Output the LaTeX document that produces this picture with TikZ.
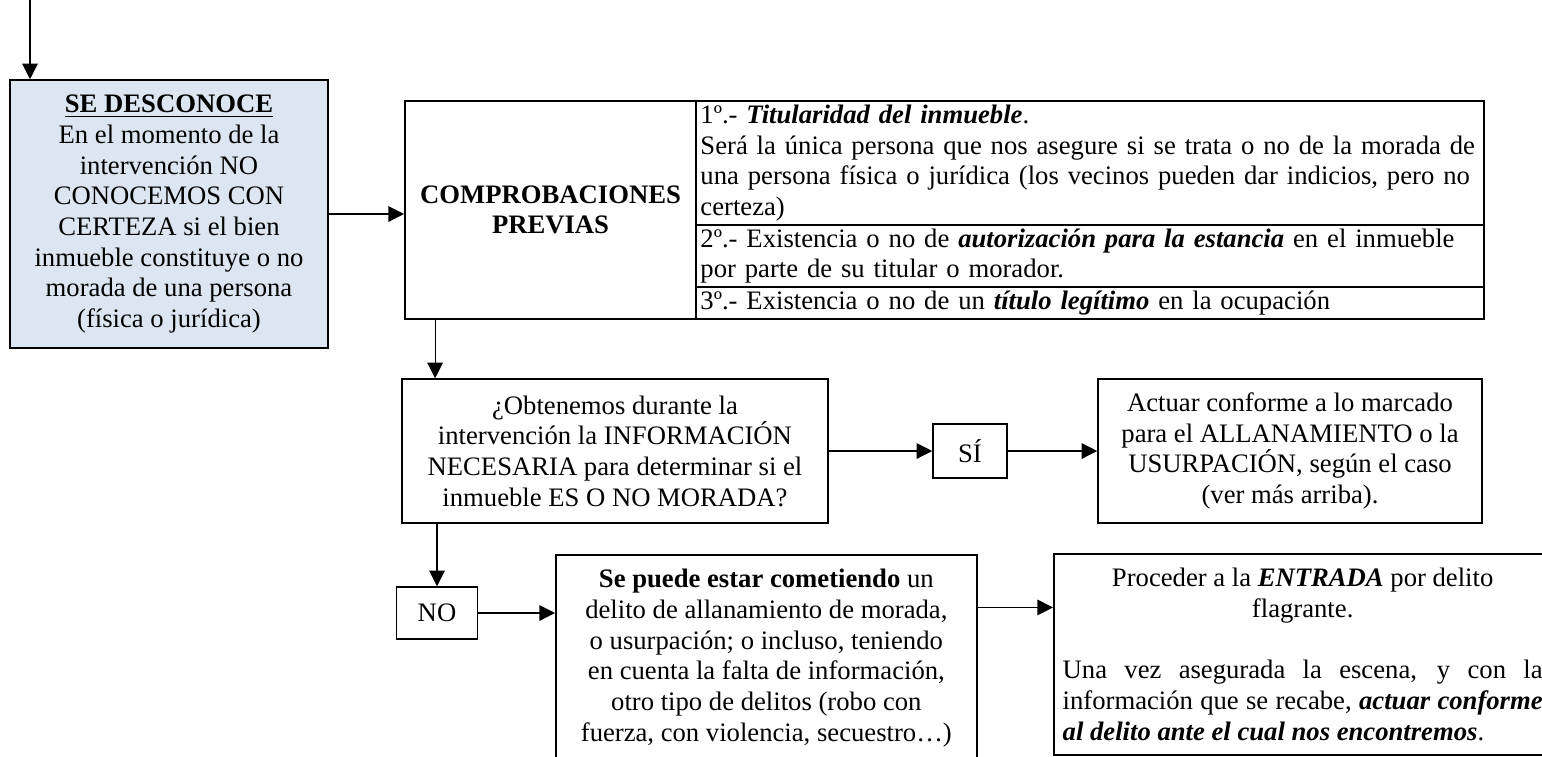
\documentclass[tikz,border=0pt]{standalone}
\usepackage{fontspec}
\setmainfont{Liberation Serif}
\usepackage{tikz}
\usetikzlibrary{shapes}
\usetikzlibrary{arrows.meta}
\definecolor{azul}{RGB}{220,230,242}
\setlength{\parindent}{0pt}

\begin{document}
\begin{tikzpicture}[x=0.45pt,y=-0.45pt,
every node/.style={font=\fontsize{12}{13.8}\selectfont}]
\tikzstyle{flecha}=[-{Triangle[length=7pt,width=7pt]},line width=0.5pt]
\tikzset{caja/.style={draw,line width=0.7pt,align=center,inner sep=0pt,fill=#1},
caja/.default={white},
celda/.style={draw,line width=0.9pt,anchor=north west,inner xsep=2pt,inner ysep=0pt,
align=left,text width=350.6pt}}
\useasboundingbox (0,0) rectangle (1542,756);
\node [caja=azul,minimum width=143.1pt,minimum height=120.6pt] (desconoce) at (169,214)
{\textbf{\underline{SE DESCONOCE}}\\En el momento de la\\intervención NO\\CONOCEMOS CON\\
CERTEZA si el bien\\inmueble constituye o no\\morada de una persona\\(física o jurídica)};
\node [caja,line width=0.9pt,anchor=north west,minimum width=131pt,minimum height=98.1pt]
(compro) at (404,100) {\textbf{COMPROBACIONES}\\\textbf{PREVIAS}};
\node [celda,minimum height=55.8pt] (fila1) at (695,100)
{1º.- \textbf{\textit{Titularidad del inmueble}}.\\
Será la única persona que nos asegure si se trata o no de la morada de\\
una persona física o jurídica (los vecinos pueden dar indicios, pero no\\
certeza)};
\node [celda,minimum height=27.9pt] (fila2) at (695,224)
{2º.- Existencia o no de \textbf{\textit{autorización para la estancia}} en el inmueble\\
por parte de su titular o morador.};
\node [celda,minimum height=14.4pt] (fila3) at (695,286)
{3º.- Existencia o no de un \textbf{\textit{título legítimo}} en la ocupación};
\node [caja,minimum width=191.7pt,minimum height=64.8pt] (pregunta) at (615,451)
{¿Obtenemos durante la\\intervención la INFORMACIÓN\\NECESARIA para determinar si el\\
inmueble ES O NO MORADA?};
\node [caja,minimum width=33.3pt,minimum height=24.3pt] (si) at (970,451) {SÍ};
\node [caja,minimum width=172.8pt,minimum height=64.8pt] (actuar) at (1290,451)
{Actuar conforme a lo marcado\\para el ALLANAMIENTO o la\\USURPACIÓN, según el caso\\
(ver más arriba).};
\node [caja,minimum width=36.5pt,minimum height=23.4pt] (no) at (437,613) {NO};
\node [caja,anchor=north west,minimum width=189.5pt,inner ysep=6.5pt] (sepuede) at (555,554)
{\textbf{Se puede estar cometiendo} un\\delito de allanamiento de morada,\\
o usurpación; o incluso, teniendo\\en cuenta la falta de información,\\
otro tipo de delitos (robo con\\fuerza, con violencia, secuestro…)};
\node [caja,anchor=north west,inner xsep=4pt,inner ysep=6.5pt,text width=216pt,align=justify]
(procede) at (1053,553)
{{\centering Proceder a la \textbf{\textit{ENTRADA}} por delito\\flagrante.\par}
\vspace{13.8pt}
Una vez asegurada la escena, y con la\linebreak
información que se recabe, \textbf{\textit{actuar conforme}}\linebreak
\textbf{\textit{al delito ante el cual nos encontremos}}.};
\coordinate (inicio) at (30,0);
\coordinate (bajada) at ([xshift=14pt]compro.south west);
\coordinate (cruce) at ([yshift=2.5pt]no.east);
\draw [flecha] (inicio) -- (inicio |- desconoce.north);
\draw [flecha] (desconoce.east) -- (desconoce.east -| compro.west);
\draw [flecha] (bajada) -- (bajada |- pregunta.north);
\draw [flecha] (pregunta.east) -- (si.west);
\draw [flecha] (si.east) -- (actuar.west);
\draw [flecha] (no.north |- pregunta.south) -- (no.north);
\draw [flecha] (no.east) -- (no.east -| sepuede.west);
\draw [flecha] (cruce -| sepuede.east) -- (cruce -| procede.west);
\end{tikzpicture}
\end{document}
